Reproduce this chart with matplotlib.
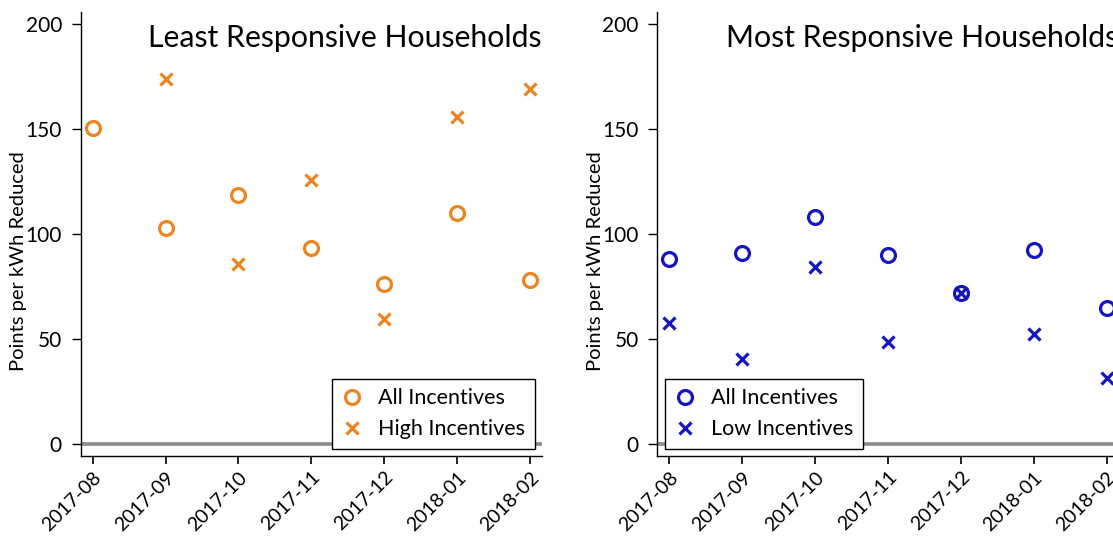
import matplotlib
matplotlib.use("Agg")
import matplotlib.pyplot as plt
from matplotlib.lines import Line2D

plt.rcParams['font.family'] = ['Lato', 'DejaVu Sans']

months = ["2017-08", "2017-09", "2017-10", "2017-11", "2017-12", "2018-01", "2018-02"]

# Least responsive households (points per kWh reduced)
least_all = [150.5, 103, 118.5, 93.5, 76, 110, 78]
least_high = [None, 174, 85.5, 125.5, 59.5, 155.5, 169]

# Most responsive households
most_all = [88, 91, 108, 90, 72, 92.5, 65]
most_low = [57.5, 40.5, 84.5, 48.5, 72, 52.5, 31.5]

orange = "#EE8420"
blue = "#1414C4"

fig = plt.figure(figsize=(11.13, 5.38), dpi=100)
ax_w, ax_h = 0.4142, 0.8253
ax1 = fig.add_axes([0.0725, 0.1524, ax_w, ax_h])
ax2 = fig.add_axes([0.5907, 0.1524, ax_w, ax_h])

TICK_FS = 15
XTICK_FS = 14
LEG_FS = 15.5


def panel(ax, title, ser_a, ser_b, color, label_b, legend_loc, anchor):
    xs_a = [i for i, v in enumerate(ser_a) if v is not None]
    ya = [v for v in ser_a if v is not None]
    xs_b = [i for i, v in enumerate(ser_b) if v is not None]
    yb = [v for v in ser_b if v is not None]

    ax.axhline(0, color="#8a8a8a", lw=2.6, zorder=1)
    ax.plot(xs_a, ya, ls="none", marker="o", ms=10, mfc="none",
            mec=color, mew=2.3, zorder=3)
    ax.plot(xs_b, yb, ls="none", marker="x", ms=8.5, mec=color,
            mew=2.3, zorder=3)

    ax.set_xlim(-0.165, 6.16)
    ax.set_ylim(-5.7, 205.7)
    ax.set_xticks(range(len(months)))
    ax.set_xticklabels(months, rotation=45, ha="right",
                       rotation_mode="anchor", fontsize=XTICK_FS)
    ax.set_yticks([0, 50, 100, 150, 200])
    ax.tick_params(axis="y", labelsize=TICK_FS, length=6.5, width=1, pad=7)
    ax.tick_params(axis="x", length=6, width=1.2, pad=3)
    for s in ("top", "right"):
        ax.spines[s].set_visible(False)
    for s in ("left", "bottom"):
        ax.spines[s].set_linewidth(1.0)

    ax.text(-0.135, 0.44, "Points per kWh Reduced", rotation=90,
            ha="center", va="center", fontsize=14.5, transform=ax.transAxes)
    ax.text(1.0, 0.941, title, ha="right", va="center", fontsize=21.8,
            transform=ax.transAxes)

    handles = [
        Line2D([], [], ls="none", marker="o", ms=10, mfc="none",
               mec=color, mew=2.3),
        Line2D([], [], ls="none", marker="x", ms=8.5, mec=color, mew=2.3),
    ]
    leg = ax.legend(handles, ["All Incentives", label_b], loc=legend_loc,
                    bbox_to_anchor=anchor, borderaxespad=0, fontsize=LEG_FS,
                    frameon=True, fancybox=False, framealpha=1,
                    edgecolor="black", handlelength=1.0, handletextpad=0.7,
                    labelspacing=0.5, borderpad=0.45)
    leg.get_frame().set_linewidth(1.0)
    leg.set_zorder(5)


panel(ax1, "Least Responsive Households", least_all, least_high, orange,
      "High Incentives", "lower right", (0.9855, 0.016))
panel(ax2, "Most Responsive Households", most_all, most_low, blue,
      "Low Incentives", "lower left", (0.0163, 0.016))

fig.savefig("out.png", dpi=100)
